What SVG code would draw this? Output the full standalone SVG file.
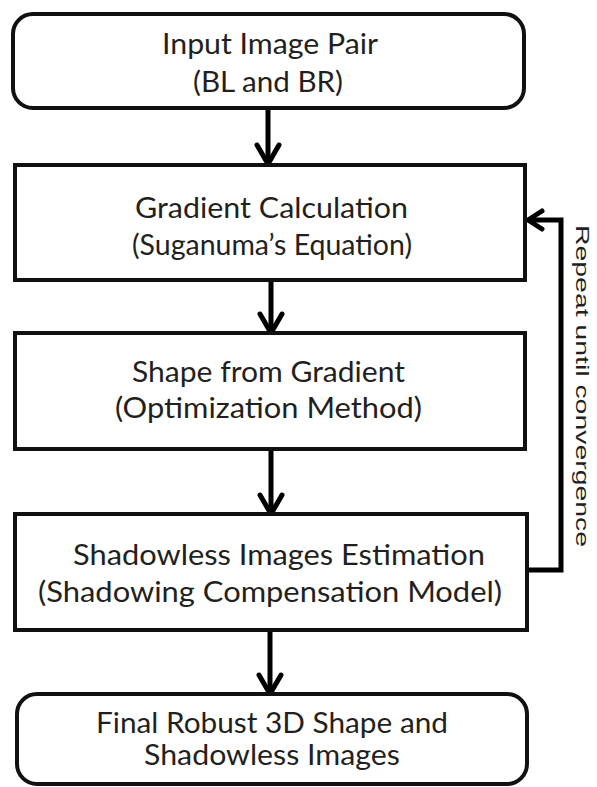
<svg xmlns="http://www.w3.org/2000/svg" width="597" height="787" viewBox="0 0 597 787">
<defs>
<style>
.box{fill:#fff;stroke:#111;stroke-width:4}
.t{font-family:Lato,"Open Sans","Liberation Sans",sans-serif;font-size:29px;fill:#231f20}
.c{fill:none;stroke:#000;stroke-width:5}
.side{font-family:"Liberation Sans",Arial,sans-serif;font-size:17.5px;fill:#231f20}
</style>
<marker id="chev" markerUnits="userSpaceOnUse" viewBox="-26 -16 30 32" refX="-2" refY="0" markerWidth="30" markerHeight="32" orient="auto" overflow="visible">
<path d="M-19,-11 L0,0 L-19,11" fill="none" stroke="#000" stroke-width="5" stroke-linecap="round" stroke-linejoin="round"/>
</marker>
<marker id="chevs" markerUnits="userSpaceOnUse" viewBox="-20 -12 24 24" refX="-2" refY="0" markerWidth="24" markerHeight="24" orient="auto" overflow="visible">
<path d="M-14,-9 L0,0 L-14,9" fill="none" stroke="#000" stroke-width="5" stroke-linecap="round" stroke-linejoin="round"/>
</marker>
</defs>
<rect width="597" height="787" fill="#fff"/>
<g id="connectors">
<path class="c" d="M268,108 V162" marker-end="url(#chev)"/>
<path class="c" d="M271,280 V331" marker-end="url(#chev)"/>
<path class="c" d="M271,449 V512" marker-end="url(#chev)"/>
<path class="c" d="M270,630 V692" marker-end="url(#chev)"/>
<path class="c" d="M527,570 H561 V220 H530" marker-end="url(#chevs)"/>
</g>
<g id="node-input">
<rect class="box" x="13" y="14" width="511" height="94" rx="20"/>
<text class="t" x="162" y="54" textLength="216" lengthAdjust="spacingAndGlyphs">Input Image Pair</text>
<text class="t" x="193" y="92" textLength="150" lengthAdjust="spacingAndGlyphs">(BL and BR)</text>
</g>
<g id="node-gradient">
<rect class="box" x="15" y="165" width="510" height="115"/>
<text class="t" x="135" y="218" textLength="273" lengthAdjust="spacingAndGlyphs">Gradient Calculation</text>
<text class="t" x="132" y="255" textLength="280" lengthAdjust="spacingAndGlyphs">(Suganuma’s Equation)</text>
</g>
<g id="node-shape">
<rect class="box" x="15" y="333" width="510" height="116"/>
<text class="t" x="132" y="382" textLength="273" lengthAdjust="spacingAndGlyphs">Shape from Gradient</text>
<text class="t" x="115" y="418" textLength="307" lengthAdjust="spacingAndGlyphs">(Optimization Method)</text>
</g>
<g id="node-shadowless">
<rect class="box" x="15" y="514" width="512" height="116"/>
<text class="t" x="73" y="565" textLength="412" lengthAdjust="spacingAndGlyphs">Shadowless Images Estimation</text>
<text class="t" x="38" y="602" textLength="464" lengthAdjust="spacingAndGlyphs">(Shadowing Compensation Model)</text>
</g>
<g id="node-final">
<rect class="box" x="17" y="694" width="510" height="90" rx="20"/>
<text class="t" x="96" y="733" textLength="352" lengthAdjust="spacingAndGlyphs">Final Robust 3D Shape and</text>
<text class="t" x="144" y="765" textLength="256" lengthAdjust="spacingAndGlyphs">Shadowless Images</text>
</g>
<g id="label-repeat">
<text class="side" transform="translate(575.5,225) rotate(90)" x="0" y="0" textLength="322" lengthAdjust="spacingAndGlyphs">Repeat until convergence</text>
</g>
</svg>
